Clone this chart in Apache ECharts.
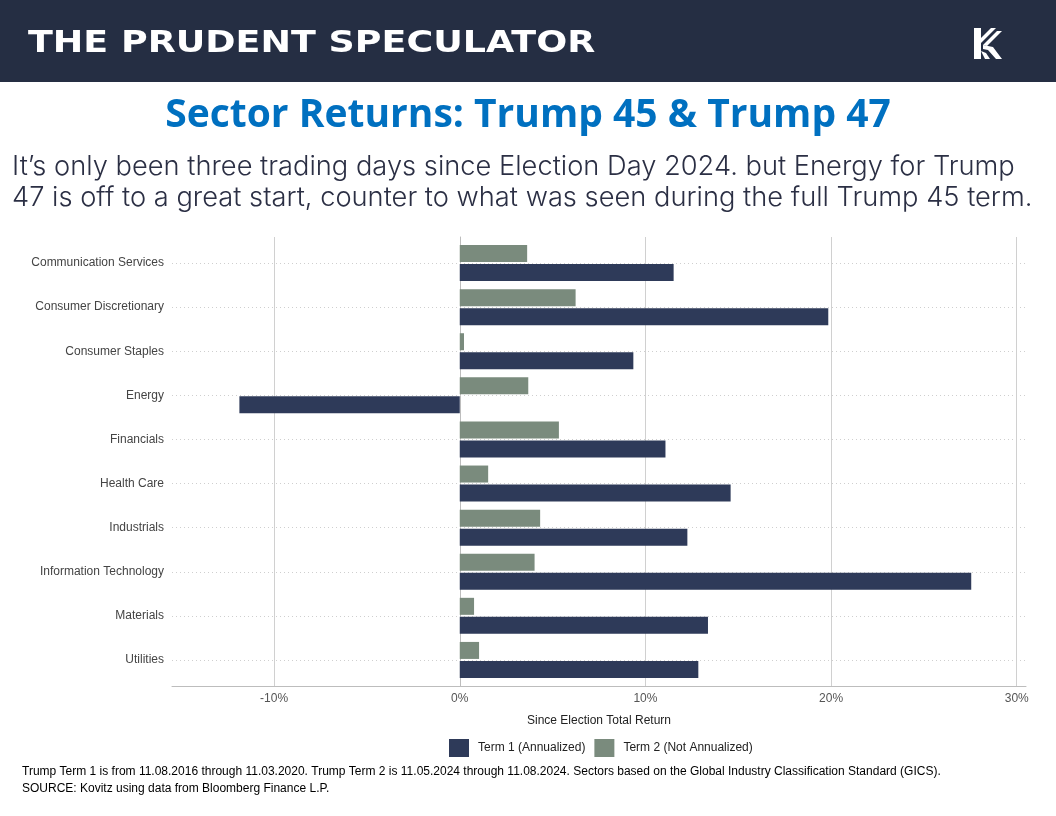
<!DOCTYPE html>
<html><head><meta charset="utf-8">
<script src="https://cdn.jsdelivr.net/npm/echarts@6/dist/echarts.min.js"></script>
<style>html,body{margin:0;padding:0;background:#fff}#c{width:1056px;height:816px}</style>
</head><body><div id="c"></div>
<script>
const categories = ['Communication Services','Consumer Discretionary','Consumer Staples','Energy','Financials','Health Care','Industrials','Information Technology','Materials','Utilities'];
const term1 = [11.52, 19.85, 9.35, -11.87, 11.08, 14.59, 12.26, 27.55, 13.37, 12.85];
const term2 = [3.63, 6.24, 0.23, 3.69, 5.34, 1.53, 4.33, 4.03, 0.77, 1.04];
const xTicks = [-10, 0, 10, 20, 30];
const seriesNames = ['Term 1 (Annualized)', 'Term 2 (Not Annualized)'];
const headerText = 'THE PRUDENT SPECULATOR';
const titleText = 'Sector Returns: Trump 45 & Trump 47';
const subLines = ['It\u2019s only been three trading days since Election Day 2024. but Energy for Trump', '47 is off to a great start, counter to what was seen during the full Trump 45 term.'];
const footLines = ['Trump Term 1 is from 11.08.2016 through 11.03.2020. Trump Term 2 is 11.05.2024 through 11.08.2024. Sectors based on the Global Industry Classification Standard (GICS).', 'SOURCE: Kovitz using data from Bloomberg Finance L.P.'];
const xName = 'Since Election Total Return';

const NAVY = '#2e3a59', GREEN = '#7a8b7d';
const chart = echarts.init(document.getElementById('c'));
const sans = 'Liberation Sans, Arial, sans-serif';
chart.setOption({
  animation: false,
  textStyle: { fontFamily: sans },
  graphic: [
    { type: 'rect', shape: { x: 0, y: 0, width: 1056, height: 82 }, style: { fill: '#252e43' }, z: 0 },
    { type: 'text', x: 28, y: 44, scaleX: 1.215, style: { text: headerText, fill: '#fff', font: 'bold 30px "DejaVu Sans"', textVerticalAlign: 'middle' } },
    { type: 'polygon', shape: { points: [[974,28],[981,28],[981,59],[974,59]] }, style: { fill: '#fff' } },
    { type: 'polygon', shape: { points: [[981,38],[991,28],[996,28],[981,43]] }, style: { fill: '#fff' } },
    { type: 'polygon', shape: { points: [[983,45],[997,31],[1002,31],[987,46]] }, style: { fill: '#fff' } },
    { type: 'polygon', shape: { points: [[983,45],[993,47],[1002,59],[996,59],[988,50],[983,49]] }, style: { fill: '#fff' } },
    { type: 'polygon', shape: { points: [[981,51],[986,53],[990,59],[985,59]] }, style: { fill: '#fff' } },
    { type: 'text', x: 528, y: 116, style: { text: titleText, fill: '#0070c0', font: 'bold 39px "Open Sans"', textAlign: 'center', textVerticalAlign: 'middle' } },
    { type: 'text', x: 12, y: 167, scaleX: 1.01, style: { text: subLines[0], fill: '#2b2f44', font: '300 27px Inter', textVerticalAlign: 'middle' } },
    { type: 'text', x: 12, y: 198, scaleX: 1.01, style: { text: subLines[1], fill: '#2b2f44', font: '300 27px Inter', textVerticalAlign: 'middle' } },
    { type: 'text', x: 22, y: 772, style: { text: footLines[0], fill: '#000', font: '12px ' + sans, textVerticalAlign: 'middle' } },
    { type: 'text', x: 22, y: 789, style: { text: footLines[1], fill: '#000', font: '12px ' + sans, textVerticalAlign: 'middle' } }
  ],
  legend: {
    data: seriesNames, left: 444, top: 734, itemWidth: 20, itemHeight: 18, itemGap: 9, icon: 'rect',
    textStyle: { fontSize: 12, color: '#222', padding: [0, 0, 0, 4] }
  },
  grid: [
    { left: 172, right: 30, top: 237, bottom: 130 },
    { left: 172, right: 30, top: 241, bottom: 134 }
  ],
  xAxis: [
    { gridIndex: 0, type: 'value', min: -15.5, max: 30.5,
      axisLine: { show: true, lineStyle: { color: '#bdbdbd', width: 1 } },
      axisTick: { show: false, customValues: xTicks },
      axisLabel: { customValues: xTicks, formatter: v => v + '%', color: '#555', fontSize: 12, margin: 7 },
      splitLine: { show: true, lineStyle: { color: '#d0d0d0', width: 1 } },
      name: xName, nameLocation: 'middle', nameGap: 29, nameTextStyle: { color: '#222', fontSize: 12 } },
    { gridIndex: 1, type: 'value', min: -15.5, max: 30.5, show: false }
  ],
  yAxis: [
    { gridIndex: 0, type: 'value', min: 0, max: 1,
      axisLine: { show: true, lineStyle: { color: '#bdbdbd', width: 1 } },
      axisTick: { show: false }, axisLabel: { show: false }, splitLine: { show: false } },
    { gridIndex: 1, type: 'category', data: categories, inverse: true,
      axisLine: { show: false }, axisTick: { show: false },
      axisLabel: { color: '#444', fontSize: 12, margin: 8, padding: [5, 0, 0, 0] }, splitLine: { show: false } }
  ],
  series: [
    { name: 'gridlines', type: 'line', xAxisIndex: 1, yAxisIndex: 1, data: [], z: 1, silent: true,
      markLine: { silent: true, symbol: 'none', z: 1, label: { show: false }, animation: false,
        lineStyle: { color: '#cfcfcf', type: [1, 3], width: 1 },
        data: categories.map(c => ({ yAxis: c })) } },
    { name: seriesNames[1], type: 'bar', xAxisIndex: 1, yAxisIndex: 1, data: term2, barWidth: 17, barGap: '12%', z: 3,
      itemStyle: { color: GREEN } },
    { name: seriesNames[0], type: 'bar', xAxisIndex: 1, yAxisIndex: 1, data: term1, barWidth: 17, barGap: '12%', z: 3,
      itemStyle: { color: NAVY } }
  ]
});
</script></body></html>
